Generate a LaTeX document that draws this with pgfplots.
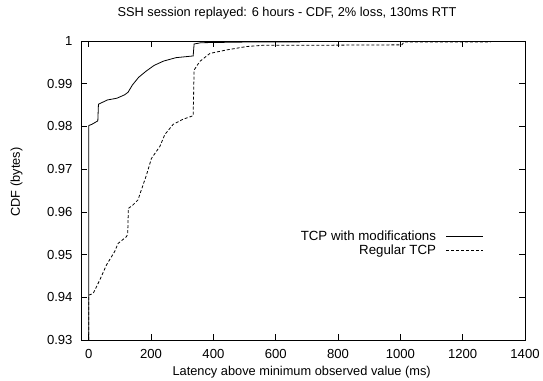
\documentclass[border=0pt]{standalone}
\usepackage{fontspec}
\setmainfont{Liberation Sans}
\usepackage{pgfplots}
\pgfplotsset{compat=1.18}
\begin{document}
\fontsize{12.8bp}{15bp}\selectfont
\begin{tikzpicture}
\useasboundingbox (0,0) rectangle (543bp,381bp);
\begin{axis}[
  at={(81bp,41bp)}, anchor=south west, scale only axis,
  width=444bp, height=299bp,
  xmin=-25, xmax=1400, ymin=0.93, ymax=1,
  xtick={0,200,400,600,800,1000,1200,1400},
  ytick={0.93,0.94,0.95,0.96,0.97,0.98,0.99,1},
  yticklabels={0.93,0.94,0.95,0.96,0.97,0.98,0.99,1},
  scaled x ticks=false,
  /pgf/number format/assume math mode=true,
  /pgf/number format/1000 sep={},
  tick align=inside, major tick length=6bp,
  tick style={black, line width=0.6bp},
  axis line style={line width=0.8bp},
  ticklabel style={font=\fontsize{13.1bp}{15bp}\selectfont},
  xticklabel style={yshift=-5bp},
  yticklabel style={xshift=-4bp},
  title={SSH session replayed: 6 hours - CDF, 2\% loss, 130ms RTT},
  title style={at={(0.464,1.0736)}, anchor=center, inner sep=0pt},
  xlabel={Latency above minimum observed value (ms)},
  xlabel style={at={(0.497,-0.107)}, anchor=center, inner sep=0pt},
  ylabel={CDF (bytes)},
  ylabel style={at={(-0.145,0.528)}, anchor=center, inner sep=0pt, rotate=0},
  legend plot pos=right,
  legend cell align=right,
  legend style={draw=none, fill=none, at={(0.9077,0.372)}, anchor=north east,
    inner sep=0pt, row sep=-1.5bp, font=\fontsize{13.3bp}{15bp}\selectfont,
    /tikz/every odd column/.append style={column sep=8bp}},
  legend image code/.code={\draw[#1] (0bp,0bp) -- (37bp,0bp);},
]
\addplot[black, line width=0.8bp] coordinates {
(0,0.93) (0,0.9802) (10,0.9805) (29,0.9813) (31,0.9852) (60,0.9862)
(90,0.9866) (115,0.9874) (126,0.988) (140,0.9897) (160,0.9915)
(185,0.9930) (210,0.9943) (240,0.9953) (280,0.9961) (335,0.9965)
(338,0.9993) (360,0.9996) (450,0.9997) (550,0.9998) (678,0.9998)
};
\addlegendentry{TCP with modifications}
\addplot[black, line width=0.8bp, dash pattern=on 3bp off 2bp] coordinates {
(0,0.93) (0,0.9405) (14,0.9409) (35,0.9440) (57,0.9476) (83,0.9507)
(94,0.9526) (121,0.9542) (125,0.9548) (127,0.9608) (140,0.9615)
(158,0.9628) (169,0.9652) (185,0.9686) (201,0.9725) (228,0.9753)
(244,0.9781) (271,0.9805) (303,0.9817) (335,0.9825) (338,0.9932)
(356,0.9952) (389,0.9971) (442,0.9979) (506,0.9987) (560,0.9990)
(700,0.9990) (1005,0.9991) (1012,0.9998) (1290,0.9998)
};
\addlegendentry{Regular TCP}
\end{axis}
\end{tikzpicture}
\end{document}
